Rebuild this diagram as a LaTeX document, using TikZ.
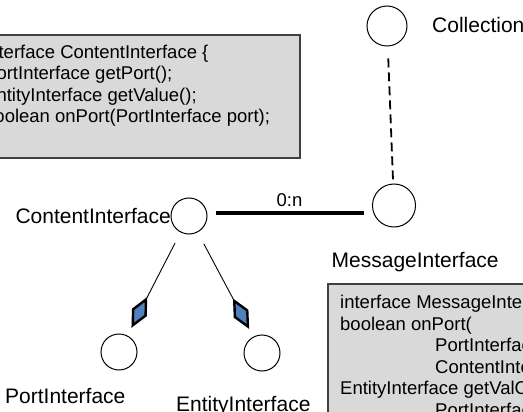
\documentclass[tikz,border=0pt]{standalone}
\usepackage{fontspec}
\setmainfont{Liberation Sans}
\usetikzlibrary{calc}
\definecolor{boxgray}{HTML}{D9D9D9}
\definecolor{boxedge}{HTML}{404040}
\definecolor{diablue}{HTML}{4F81BD}
\begin{document}
\begin{tikzpicture}[x=1pt,y=-1pt,
  iface/.style={circle,draw,line width=1pt,minimum size=36pt,inner sep=0pt},
  lbl/.style={font=\fontsize{21}{25}\selectfont,inner sep=0pt},
  code/.style={font=\fontsize{18.5}{21.6}\selectfont,inner sep=0pt,align=left},
  codebox/.style={fill=boxgray,draw=boxedge,line width=1.2pt},
  assoc/.style={line width=4pt},
  collect/.style={line width=1.8pt,dash pattern=on 9pt off 5pt,shorten <=12pt},
  link/.style={line width=0.9pt},
  diamondtip/.style={fill=diablue,draw=black,line width=2.4pt,line join=miter,miter limit=6}]
  \useasboundingbox (0,0) rectangle (523,412);
  \clip (0,0) rectangle (523,412);

  % code boxes (the anchor is the baseline of the last line)
  \draw[codebox] (-26,35) rectangle (300,158);
  \node[code,anchor=base west] (cicode) at (-16,122.8)
    {interface ContentInterface \{\\
     PortInterface getPort();\\
     EntityInterface getValue();\\
     boolean onPort(PortInterface port);};

  \draw[codebox] (328,284) rectangle (540,430);
  \node[code,anchor=base west] (micode) at (340,416.5)
    {interface MessageInterface \{\\
     boolean onPort(\\
     \hspace*{95pt}PortInterface port,\\
     \hspace*{95pt}ContentInterface content);\\
     EntityInterface getValContent(\\
     \hspace*{95pt}PortInterface port);};

  % interfaces
  \node[iface,minimum size=40pt] (coll) at (387,26) {};
  \node[iface,minimum size=43pt] (mi) at (394,205.5) {};
  \node[iface] (ci) at (189,216) {};
  \node[iface] (port) at (119,352) {};
  \node[iface] (ent) at (262,353) {};

  % labels
  \node[lbl,anchor=base west] (colllbl) at (432,32.5) {Collection};
  \node[lbl,anchor=base east] (cilbl) at (171,223.5) {ContentInterface};
  \node[lbl,anchor=base west] (milbl) at (331.5,267) {MessageInterface};
  \node[lbl,anchor=base west] (portlbl) at (5,403) {PortInterface};
  \node[lbl,anchor=base west] (entlbl) at (176,411) {EntityInterface};

  % dependency and association
  \draw[collect] (coll) -- (mi);
  \draw[assoc] ($(ci.east)+(8,-3.3)$) --
    node[midway,above=4pt,inner sep=0pt,font=\fontsize{18.5}{21}\selectfont] (mult) {0:n}
    ($(ci.east -| mi.west)+(-8.5,-3.3)$);

  % composition diamonds, placed on the line between the circles
  \coordinate (pA) at ($(port)!30pt!(ci)$);
  \coordinate (pB) at ($(port)!59pt!(ci)$);
  \coordinate (pM) at ($(port)!44.5pt!(ci)$);
  \coordinate (eA) at ($(ent)!30pt!(ci)$);
  \coordinate (eB) at ($(ent)!59pt!(ci)$);
  \coordinate (eM) at ($(ent)!44.5pt!(ci)$);
  \draw[link,shorten <=12pt] (ci) -- (pB);
  \draw[link,shorten <=13pt] (ci) -- (eB);
  \draw[diamondtip] (pA) -- ($(pM)!7pt!90:(pB)$) -- (pB) -- ($(pM)!7pt!-90:(pB)$) -- cycle;
  \draw[diamondtip] (eA) -- ($(eM)!7pt!90:(eB)$) -- (eB) -- ($(eM)!7pt!-90:(eB)$) -- cycle;
\end{tikzpicture}
\end{document}
